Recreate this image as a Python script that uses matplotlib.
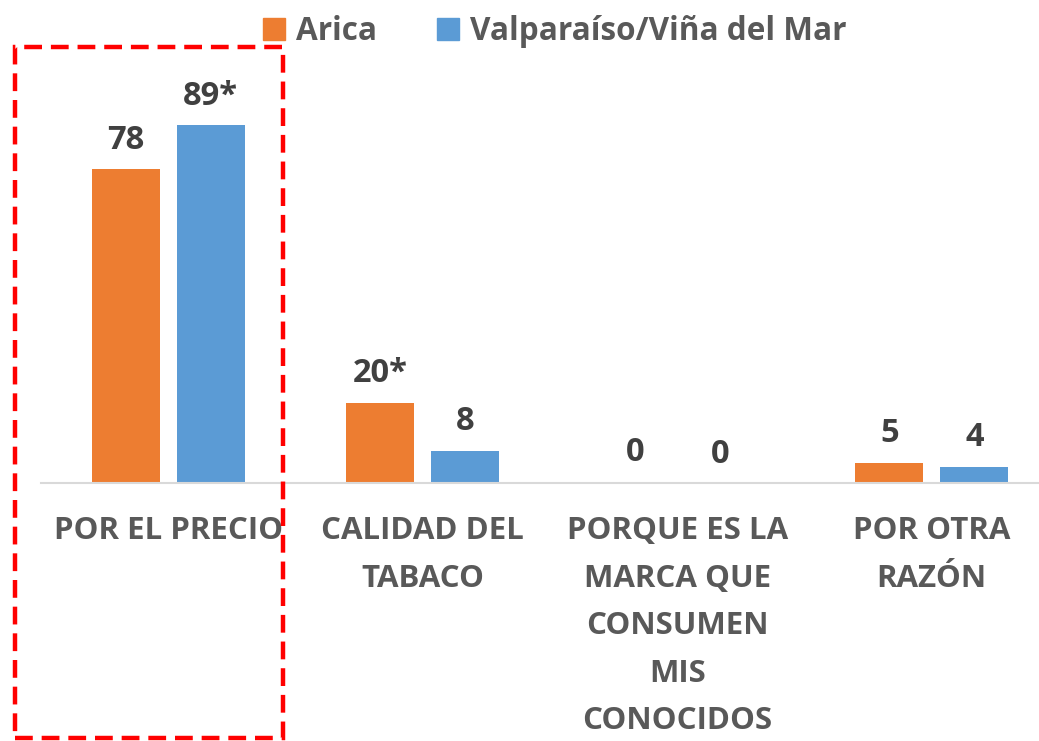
import matplotlib
matplotlib.use("Agg")
import matplotlib.pyplot as plt
from matplotlib.patches import Rectangle, Patch
import numpy as np

plt.rcParams['font.family'] = ['Open Sans', 'DejaVu Sans']
plt.rcParams['font.weight'] = 'bold'

# data
categories = ["POR EL PRECIO", "CALIDAD DEL\nTABACO",
              "PORQUE ES LA\nMARCA QUE\nCONSUMEN\nMIS\nCONOCIDOS",
              "POR OTRA\nRAZÓN"]
arica = [78, 20, 0.3, 5]
valpo = [89, 8, 0, 4]
arica_marks = ["", "*", "", ""]
valpo_marks = ["*", "", "", ""]
series_names = ["Arica", "Valparaíso/Viña del Mar"]

orange = "#ED7D31"
blue = "#5B9BD5"
val_col = "#404040"
txt_col = "#595959"

W, H = 1039, 741
fig = plt.figure(figsize=(W / 100, H / 100), dpi=100)
# axes spans 41..1059 px horizontally, baseline at y=483, 4.02 px per unit
ax = fig.add_axes([41 / W, 1 - 483 / H, 1018 / W, 402 / H])

x = np.arange(len(categories))
bw = 0.267
off = 0.167
b1 = ax.bar(x - off, arica, bw, color=orange)
b2 = ax.bar(x + off, valpo, bw, color=blue)

for bars, vals, marks in [(b1, arica, arica_marks), (b2, valpo, valpo_marks)]:
    for b, v, m in zip(bars, vals, marks):
        ax.annotate(f"{v:.0f}{m}", (b.get_x() + b.get_width() / 2, b.get_height()),
                    xytext=(0, 9), textcoords="offset points",
                    ha="center", va="bottom", fontsize=23.5, fontweight="bold",
                    color=val_col)

ax.set_xlim(-0.5, len(categories) - 0.5)
ax.set_ylim(0, 100)
ax.set_xticks(x)
ax.set_xticklabels(categories, fontsize=22.5, fontweight="bold", color=txt_col,
                   linespacing=1.76, va="top")
ax.tick_params(axis="x", length=0, pad=24)
ax.set_yticks([])
for s in ["top", "right", "left"]:
    ax.spines[s].set_visible(False)
ax.spines["bottom"].set_color("#D9D9D9")
ax.spines["bottom"].set_linewidth(1.5)

handles = [Patch(color=orange), Patch(color=blue)]
fig.legend(handles, series_names, loc="upper center", bbox_to_anchor=(0.534, 1.018),
           ncol=2, frameon=False, handlelength=0.7, handleheight=0.7,
           columnspacing=1.9, handletextpad=0.35,
           prop={"weight": "bold", "size": 22.7})
for t in fig.legends[0].get_texts():
    t.set_color(txt_col)

# red dashed highlight box
rect = Rectangle((15 / W, 1 - 738 / H), (283 - 15) / W, (738 - 47) / H,
                 transform=fig.transFigure, fill=False, edgecolor="#FF0000",
                 linewidth=3.2, linestyle=(0, (4, 2)), clip_on=False)
fig.patches.append(rect)

fig.savefig("out.png", dpi=100)
